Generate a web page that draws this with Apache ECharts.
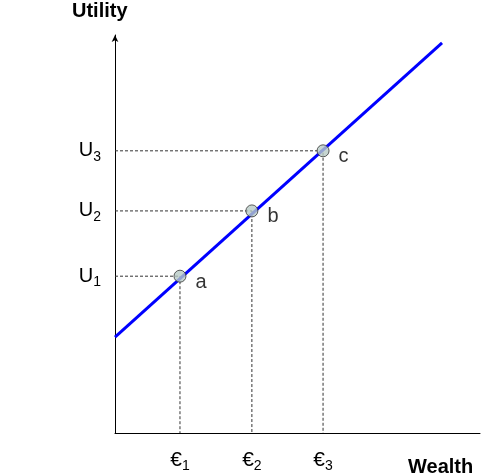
<!DOCTYPE html>
<html>
<head>
<meta charset="utf-8">
<script src="https://cdn.jsdelivr.net/npm/echarts@6/dist/echarts.min.js"></script>
<style>html,body{margin:0;padding:0;background:#fff}#chart{width:497px;height:476px}</style>
</head>
<body>
<div id="chart"></div>
<script>
const pointNames = ['a', 'b', 'c']
const wealthValues = [1.78, 3.75, 5.7]
const utilityValues = [3.94, 5.58, 7.09]
const wealthLabels = ['€{s|1}', '€{s|2}', '€{s|3}']
const utilityLabels = ['U{s|1}', 'U{s|2}', 'U{s|3}']
const lineStart = [0, 2.41]
const lineEnd = [8.96, 9.8]

const chart = echarts.init(document.getElementById('chart'))
const labelRich = { s: { fontSize: 14, padding: [12, 0, 0, 0], fontFamily: 'Liberation Sans', color: '#000' } }

const guides = wealthValues.map((x, i) => ({
  type: 'line',
  data: [[0, utilityValues[i]], [x, utilityValues[i]], [x, 0]],
  symbol: 'none',
  silent: true,
  lineStyle: { color: '#333', width: 1, type: [3, 2] },
  z: 1
}))

chart.setOption({
  animation: false,
  grid: { left: 115, right: 17, top: 35, bottom: 43 },
  title: [
    { text: 'Utility', left: 67, top: -4, textStyle: { fontSize: 20, fontWeight: 'bold', fontFamily: 'Liberation Sans', color: '#000' } },
    { text: 'Wealth', left: 403, top: 452, textStyle: { fontSize: 20, fontWeight: 'bold', fontFamily: 'Liberation Sans', color: '#000' } }
  ],
  xAxis: {
    type: 'value', min: 0, max: 10,
    splitLine: { show: false },
    axisLine: { lineStyle: { color: '#000', width: 1 } },
    axisTick: { show: false },
    axisLabel: {
      customValues: wealthValues,
      formatter: (v) => wealthLabels[wealthValues.indexOf(v)],
      fontSize: 21, color: '#000', fontFamily: 'Liberation Sans', margin: 14, rich: labelRich
    }
  },
  yAxis: {
    type: 'value', min: 0, max: 10,
    splitLine: { show: false },
    axisLine: { show: true, symbol: ['none', 'arrow'], symbolSize: [5, 7], lineStyle: { color: '#000', width: 1 } },
    axisTick: { show: false },
    axisLabel: {
      customValues: utilityValues,
      formatter: (v) => utilityLabels[utilityValues.indexOf(v)],
      fontSize: 20, color: '#000', fontFamily: 'Liberation Sans', margin: 14, rich: labelRich
    }
  },
  series: [
    ...guides,
    {
      type: 'line',
      data: [lineStart, lineEnd],
      symbol: 'none',
      lineStyle: { color: '#0000ff', width: 3 },
      z: 2
    },
    {
      type: 'scatter',
      data: wealthValues.map((x, i) => [x, utilityValues[i], pointNames[i]]),
      symbolSize: 12,
      itemStyle: { color: '#b8cbc6', borderColor: '#333', borderWidth: 1 },
      label: {
        show: true, position: 'right', offset: [4, 6],
        formatter: (p) => p.value[2],
        fontSize: 20, color: '#000', fontFamily: 'Liberation Sans'
      },
      z: 3
    }
  ]
})
</script>
</body>
</html>
